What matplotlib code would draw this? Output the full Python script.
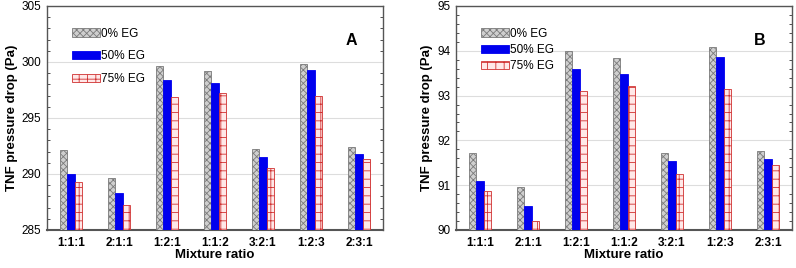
import matplotlib
matplotlib.use("Agg")
import matplotlib.pyplot as plt
import numpy as np
from matplotlib.ticker import MultipleLocator

plt.rcParams['font.family'] = ['Liberation Sans', 'DejaVu Sans']
plt.rcParams['hatch.linewidth'] = 0.6

# data
ratios = ['1:1:1', '2:1:1', '1:2:1', '1:1:2', '3:2:1', '1:2:3', '2:3:1']
series = ['0% EG', '50% EG', '75% EG']

a_eg0 = [292.1, 289.6, 299.6, 299.2, 292.2, 299.8, 292.4]
a_eg50 = [290.0, 288.3, 298.4, 298.1, 291.55, 299.25, 291.75]
a_eg75 = [289.3, 287.2, 296.85, 297.2, 290.5, 296.95, 291.3]

b_eg0 = [91.71, 90.97, 94.0, 93.85, 91.71, 94.08, 91.76]
b_eg50 = [91.09, 90.54, 93.59, 93.48, 91.53, 93.87, 91.59]
b_eg75 = [90.87, 90.21, 93.11, 93.21, 91.24, 93.14, 91.46]

fig = plt.figure(figsize=(7.96, 2.68), dpi=100)
ax1 = fig.add_axes([47/796, 38/268, 336/796, 224/268])
ax2 = fig.add_axes([456/796, 38/268, 336/796, 224/268])


def draw(ax, vals, ylim, major, minor, tag, legend_top, legend_gap):
    x = np.arange(len(ratios))
    w = 0.155
    lo = ylim[0]
    styles = [
        dict(color='#cfcfcf', hatch='xxxxx', edgecolor='#7a7a7a'),
        dict(color='#0000ee', edgecolor='#0000ee'),
        dict(color='#ffe8e8', hatch='++', edgecolor='#d03030'),
    ]
    for i, (v, name, st) in enumerate(zip(vals, series, styles)):
        v = np.array(v)
        ax.bar(x + (i - 1) * w, v - lo, w, bottom=lo, label=name,
               linewidth=0.6, zorder=3, **st)
    ax.set_xlim(-0.5, len(ratios) - 0.5)
    ax.set_ylim(*ylim)
    ax.set_xticks(x)
    ax.set_xticklabels(ratios, fontweight='bold', fontsize=8.5)
    ax.yaxis.set_major_locator(MultipleLocator(major))
    ax.yaxis.set_minor_locator(MultipleLocator(minor))
    ax.tick_params(axis='y', which='both', direction='in', right=True,
                   labelsize=8.5, colors='#333333', labelcolor='black')
    ax.tick_params(axis='y', which='major', length=0, pad=4)
    ax.tick_params(axis='y', which='minor', length=2)
    ax.tick_params(axis='x', length=0, pad=5)
    ax.grid(axis='y', which='major', color='#dddddd', linewidth=0.8, zorder=0)
    for s in ax.spines.values():
        s.set_color('#555555')
        s.set_linewidth(1.0)
    ax.spines['bottom'].set_linewidth(1.5)
    ax.set_xlabel('Mixture ratio', fontweight='bold', fontsize=9.5, labelpad=0)
    ax.set_ylabel('TNF pressure drop (Pa)', fontweight='bold', fontsize=9.5,
                  labelpad=3)
    ax.text(0.905, 0.845, tag, transform=ax.transAxes, fontweight='bold',
            fontsize=11.5, ha='center', va='center')
    ax.legend(loc='upper left', bbox_to_anchor=(0.06, legend_top), frameon=False,
              fontsize=8.5, handlelength=2.4, handleheight=0.7,
              handletextpad=0.1, labelspacing=legend_gap, borderaxespad=0)


draw(ax1, [a_eg0, a_eg50, a_eg75], (285, 305), 5, 1, 'A', 0.925, 0.9)
draw(ax2, [b_eg0, b_eg50, b_eg75], (90, 95), 1, 0.2, 'B', 0.925, 0.38)

fig.savefig('out.png', dpi=100)
